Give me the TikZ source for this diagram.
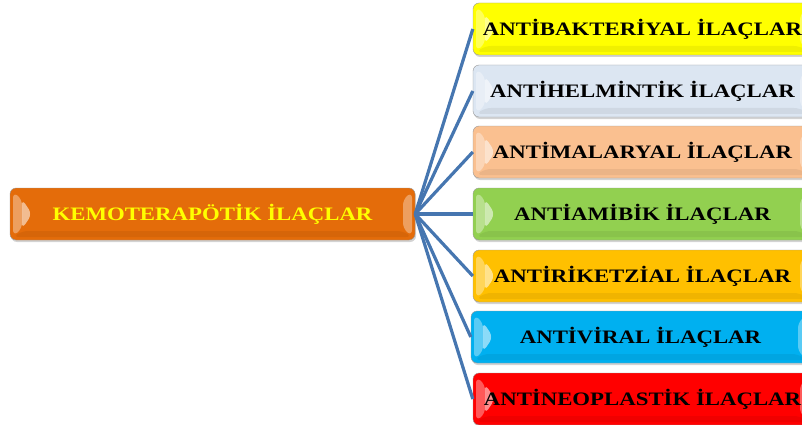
\documentclass[tikz,border=0pt]{standalone}
\usepackage{fontspec}
\setmainfont{Liberation Serif}
\newfontfamily\boxfont[FakeStretch=1.2]{Liberation Serif}
\usetikzlibrary{calc,shadows}

\definecolor{kemoorange}{HTML}{E46C0A}
\definecolor{kemotext}{HTML}{FFFF00}
\definecolor{bakyellow}{HTML}{FFFF00}
\definecolor{helmgray}{HTML}{DCE6F2}
\definecolor{malpeach}{HTML}{FAC090}
\definecolor{amibgreen}{HTML}{92D050}
\definecolor{riketgold}{HTML}{FFC000}
\definecolor{viralcyan}{HTML}{00B0F0}
\definecolor{neored}{HTML}{FF0000}
\definecolor{linkblue}{HTML}{4676B0}

% bevel of the buttons
\newcommand{\bevel}{%
    \fill[white, opacity=.35]
        ($(path picture bounding box.north west)+(3pt,-4pt)$)
        -- ($(path picture bounding box.south west)+(3pt,4pt)$)
        -- ($(path picture bounding box.south west)+(12pt,11pt)$)
        -- ($(path picture bounding box.north west)+(12pt,-11pt)$) -- cycle;
    \fill[white, opacity=.55]
        ($(path picture bounding box.north west)+(12pt,-11pt)$)
        -- ($(path picture bounding box.west)+(22pt,0pt)$)
        -- ($(path picture bounding box.south west)+(12pt,11pt)$) -- cycle;
    \fill[black, opacity=.06]
        ($(path picture bounding box.south west)+(3pt,3pt)$)
        -- ($(path picture bounding box.south east)+(-3pt,3pt)$)
        -- ($(path picture bounding box.south east)+(-12pt,9pt)$)
        -- ($(path picture bounding box.south west)+(12pt,9pt)$) -- cycle;
    \fill[white, opacity=.35]
        ($(path picture bounding box.north east)+(-3pt,-4pt)$)
        -- ($(path picture bounding box.south east)+(-3pt,4pt)$)
        -- ($(path picture bounding box.south east)+(-12pt,11pt)$)
        -- ($(path picture bounding box.north east)+(-12pt,-11pt)$) -- cycle;
}

\begin{document}
\begin{tikzpicture}[x=1pt, y=-1pt]
    \tikzstyle{box}=[draw=black!40, rounded corners=6pt, minimum height=52pt,
        inner sep=0pt, font=\boxfont\fontsize{19}{22}\selectfont\bfseries,
        drop shadow={shadow xshift=1pt, shadow yshift=-2pt, opacity=.35},
        path picture={\bevel}]
    \tikzstyle{drug}=[box, minimum width=339pt, text=black]
    \tikzstyle{link}=[draw=linkblue, line width=3.2pt]

    \useasboundingbox (0, 0) rectangle (802, 425);

    \node (kemo) at (212.5, 214) [box, minimum width=405pt, fill=kemoorange,
        text=kemotext] {KEMOTERAPÖTİK İLAÇLAR};

    \node (antibak) at (642.5, 29) [drug, fill=bakyellow] {ANTİBAKTERİYAL İLAÇLAR};
    \node (antihelm) at (642.5, 91) [drug, fill=helmgray] {ANTİHELMİNTİK İLAÇLAR};
    \node (antimal) at (642.5, 152) [drug, fill=malpeach] {ANTİMALARYAL İLAÇLAR};
    \node (antiamib) at (642.5, 214) [drug, fill=amibgreen] {ANTİAMİBİK İLAÇLAR};
    \node (antiriket) at (642.5, 276) [drug, fill=riketgold] {ANTİRİKETZİAL İLAÇLAR};
    \node (antiviral) at (640.5, 337) [drug, fill=viralcyan] {ANTİVİRAL İLAÇLAR};
    \node (antineo) at (642.5, 399) [drug, fill=neored] {ANTİNEOPLASTİK İLAÇLAR};

    % connectors from the middle of the right edge
    \foreach \n in {antibak, antihelm, antimal, antiamib, antiriket, antiviral, antineo}
        \draw [link] (kemo.east) -- (\n.west);

\end{tikzpicture}
\end{document}
